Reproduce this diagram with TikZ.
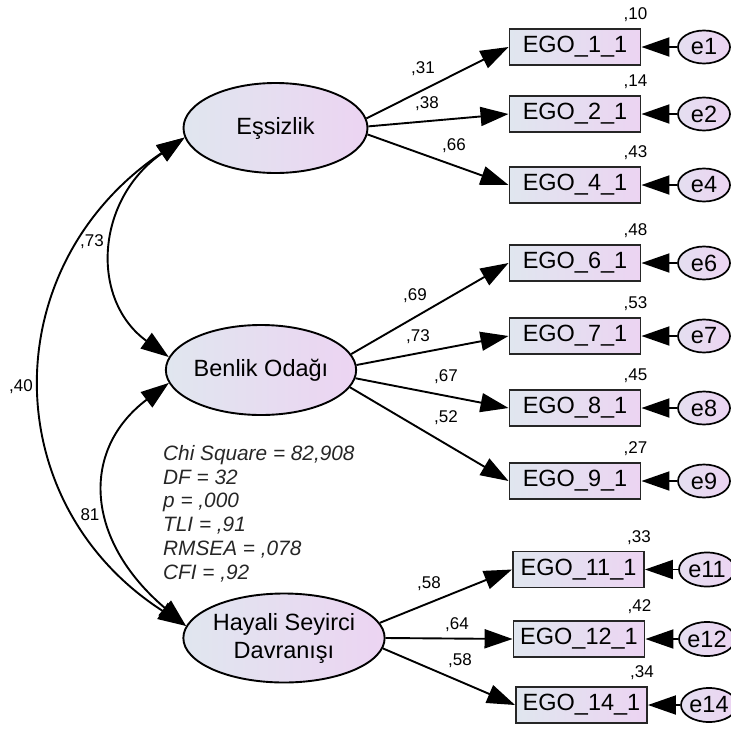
\documentclass[tikz,border=0pt]{standalone}
\usepackage{fontspec}
\setmainfont{Liberation Sans}
\usetikzlibrary{arrows.meta,shapes.geometric,positioning}
\definecolor{shadeL}{RGB}{224,230,239}
\definecolor{shadeR}{RGB}{236,212,242}
\tikzset{
  latent/.style={ellipse, draw, line width=1.9pt, left color=shadeL, right color=shadeR,
    minimum width=184pt, minimum height=90pt, inner sep=0pt, align=center,
    font=\fontsize{23.5}{28}\selectfont},
  item/.style={rectangle, draw=black!85, line width=1.9pt, left color=shadeL, right color=shadeR,
    minimum width=131pt, minimum height=36pt, inner sep=0pt, font=\fontsize{23.5}{27}\selectfont},
  err/.style={ellipse, draw, line width=1.7pt, left color=shadeL!60!shadeR, right color=shadeR,
    minimum width=52pt, minimum height=33pt, inner sep=0pt, font=\fontsize{23.5}{27}\selectfont},
  coef/.style={inner sep=0pt, font=\fontsize{17}{19}\selectfont},
  load/.style={-{Triangle[length=28pt,width=19pt]}, line width=1.9pt},
  cov/.style={{Triangle[length=28pt,width=19pt]}-{Triangle[length=28pt,width=19pt]}, line width=1.9pt}
}
\begin{document}
\begin{tikzpicture}[x=1pt,y=-1pt]
    \useasboundingbox (0,0) rectangle (731,731);
    % latent variables
    \node[latent] (ess) at (275.5,128) {Eşsizlik};
    \node[latent] (ben) at (261,370) {Benlik Odağı};
    \node[latent, minimum width=183pt, minimum height=89pt] (hay) at (284,638) {Hayali Seyirci\\Davranışı};
    % indicators and errors
    \foreach \n/\y in {1/47,2/114,4/185,6/263,7/336,8/408,9/481} {
        \node[item] (x\n) at (575,\y) {EGO\_\n\_1};
        \node[err] (e\n) at (704,\y) {e\n};
        \draw[load] (e\n) -- (x\n);
    }
    \foreach \n/\x/\ex/\y in {11/578.5/707/569.5,12/579/707/639,14/581.5/709/705} {
        \node[item] (x\n) at (\x,\y) {EGO\_\n\_1};
        \node[err, minimum width=56pt, minimum height=34pt] (e\n) at (\ex,\y) {e\n};
        \draw[load] (e\n) -- (x\n);
    }
    % squared multiple correlations
    \foreach \n/\v in {1/10,2/14,4/43,6/48,7/53,8/45,9/27,11/33,12/42,14/34}
        \node[coef, above left=6pt and -6pt of x\n.north east] (r\n) {,\v};
    % loadings
    \draw[load] (ess.6) -- (x1.west);
    \draw[load] (ess.1) -- (x2.west);
    \draw[load] (ess.-4) -- (x4.west);
    \draw[load] (ben.10) -- (x6.west);
    \draw[load] (ben.3) -- (x7.west);
    \draw[load] (ben.-5) -- (x8.west);
    \draw[load] (ben.-11) -- (x9.west);
    \draw[load] (hay.9) -- (x11.west);
    \draw[load] (hay.0) -- (x12.west);
    \draw[load] (hay.-6) -- (x14.west);
    \foreach \x/\y/\v [count=\i] in {423/69/31,427/104/38,454/146/66,415/296/69,418/337/73,
        446/377/67,446/418/52,429/584/58,457/625/64,460/661/58}
        \node[coef] (w\i) at (\x,\y) {,\v};
    % covariances
    \draw[cov] (ess.186) .. controls (95,200) and (90,300) .. (ben.172);
    \draw[cov] (ess.186) .. controls (-5,265) and (-5,503) .. (hay.173);
    \draw[cov] (ben.188) .. controls (80,450) and (85,540) .. (hay.173);
    \node[coef] (c1) at (92,242) {,73};
    \node[coef] (c2) at (21,387) {,40};
    \node[coef] (c3) at (90,515) {81};
    % fit indices
    \node[anchor=north west, inner sep=0pt, align=left, text=black!85,
        font=\itshape\fontsize{20.8}{23.8}\selectfont] (stats) at (163,445)
        {Chi Square = 82,908\\DF = 32\\p = ,000\\TLI = ,91\\RMSEA = ,078\\CFI = ,92};
\end{tikzpicture}
\end{document}
